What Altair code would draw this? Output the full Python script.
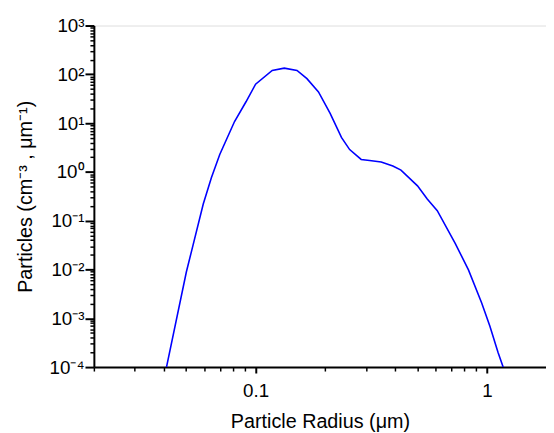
import altair as alt
import pandas as pd

# Particle radius (um) and particle count (cm^-3 um^-1)
radius = [0.0412, 0.0502, 0.0530, 0.0594, 0.0644, 0.0700, 0.0811, 0.0909, 0.100,
          0.118, 0.133, 0.151, 0.1667, 0.187, 0.210, 0.235, 0.255, 0.286, 0.311,
          0.349, 0.392, 0.425, 0.501, 0.552, 0.610, 0.730, 0.832, 0.949, 1.030,
          1.117, 1.175]
particles = [1e-4, 0.0089, 0.025, 0.22, 0.76, 2.28, 10.8, 27.4, 62.7,
             120, 134, 120, 81.5, 43.7, 15.9, 5.1, 2.87, 1.80, 1.72,
             1.59, 1.32, 1.09, 0.518, 0.278, 0.161, 0.034, 0.0098, 0.00206, 0.00069,
             0.0002, 1e-4]

y_major = [1e-4, 1e-3, 1e-2, 1e-1, 1, 10, 100, 1000]
y_labels = ["10⁻⁴", "10⁻³", "10⁻²", "10⁻¹", "10⁰", "10¹", "10²", "10³"]
y_minor = [m * d for d in [1e-4, 1e-3, 1e-2, 1e-1, 1, 10, 100] for m in range(2, 10)]
x_major = [0.1, 1]
x_minor = [m * d for d in [0.01, 0.1] for m in range(2, 10)]

df = pd.DataFrame({"r": radius, "v": particles})

FONT = "Liberation Sans"
xs = alt.Scale(type="log", domain=[0.02, 1.8], nice=False)
ys = alt.Scale(type="log", domain=[1e-4, 1e3], nice=False)

label_arr = "[" + ",".join("'" + s + "'" for s in y_labels) + "]"

major_x = alt.Axis(orient="bottom", values=x_major, format="~g", grid=False,
                   tickSize=6, tickWidth=2, domainWidth=2, domainColor="black",
                   tickColor="black", labelFont=FONT, labelFontSize=19,
                   labelColor="black", labelPadding=9, title="Particle Radius (μm)",
                   titleFont=FONT, titleFontSize=20, titleFontWeight="normal",
                   titleColor="black", titlePadding=11)
minor_x = alt.Axis(orient="bottom", values=x_minor, grid=False, labels=False,
                   domain=False, tickSize=4, tickWidth=1.5, tickColor="black",
                   title=None)
major_y = alt.Axis(orient="left", values=y_major, grid=False,
                   labelExpr=label_arr + "[round(log(datum.value)/LN10)+4]",
                   tickSize=9, tickWidth=2, domainWidth=2, domainColor="black",
                   tickColor="black", labelFont=FONT, labelFontSize=19,
                   labelColor="black", labelPadding=1,
                   title="Particles (cm⁻³ , μm⁻¹)", titleFont=FONT,
                   titleFontSize=20, titleFontWeight="normal", titleColor="black",
                   titlePadding=14)
minor_y = alt.Axis(orient="left", values=y_minor, grid=False, labels=False,
                   domain=False, tickSize=4, tickWidth=1.5, tickColor="black",
                   title=None)

base = alt.Chart(df)
minor = base.mark_line(opacity=0).encode(
    x=alt.X("r:Q", scale=xs, axis=minor_x),
    y=alt.Y("v:Q", scale=ys, axis=minor_y),
)
main = base.mark_line(color="#0000ff", strokeWidth=1.6, clip=True).encode(
    x=alt.X("r:Q", scale=xs, axis=major_x),
    y=alt.Y("v:Q", scale=ys, axis=major_y),
)

chart = (
    alt.layer(minor, main)
    .resolve_axis(x="independent", y="independent")
    .properties(
        width=458,
        height=346,
        autosize=alt.AutoSizeParams(type="none"),
        padding={"left": 87, "top": 15, "right": 0, "bottom": 63},
    )
    .configure_view(stroke=None)
    .configure(background="white")
)

chart.save("out.html", embed_options={"renderer": "svg", "actions": False})
